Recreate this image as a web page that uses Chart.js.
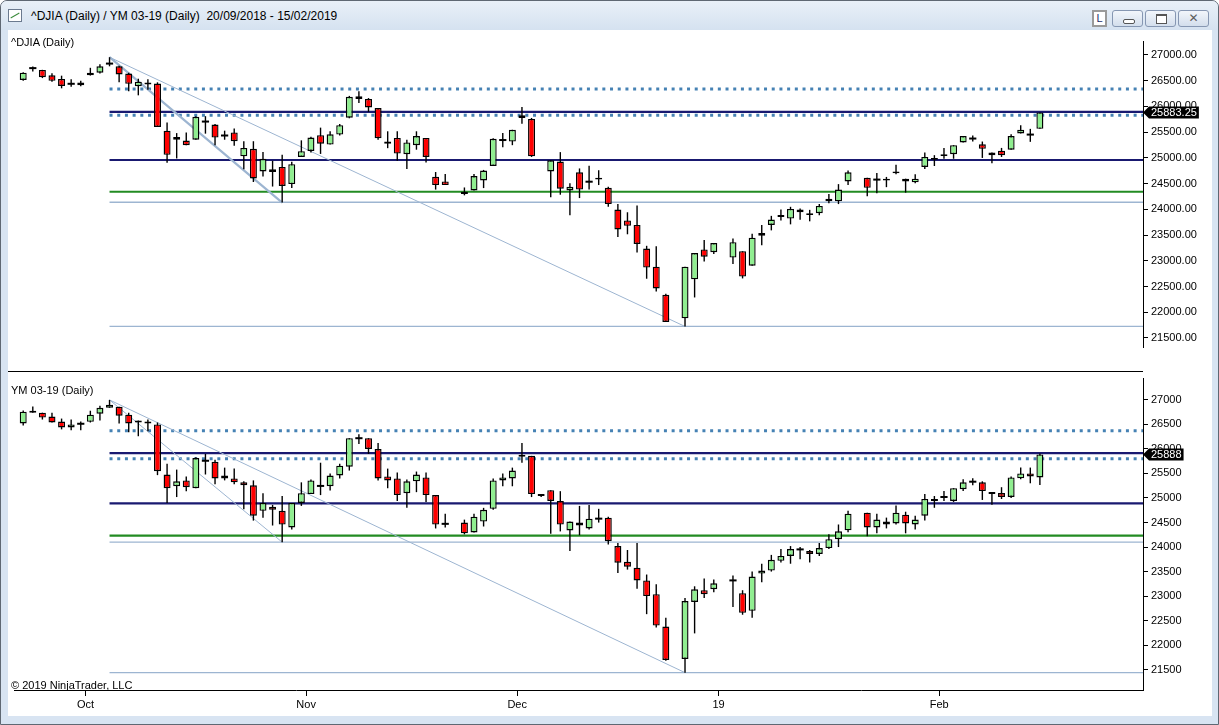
<!DOCTYPE html>
<html lang="en">
<head>
<meta charset="utf-8">
<title>^DJIA (Daily) / YM 03-19 (Daily)</title>
<script src="https://cdn.jsdelivr.net/npm/chart.js@4.4.1/dist/chart.umd.min.js"></script>
<style>
  html, body { margin: 0; padding: 0; }
  body {
    width: 1219px; height: 725px; overflow: hidden; position: relative;
    font-family: "Liberation Sans", Arial, sans-serif; color: #000;
  }
  .abs { position: absolute; }
  #frame { left: 0; top: 0; width: 1219px; height: 725px; box-sizing: border-box;
    border: 1px solid #5f6873; border-radius: 7px 7px 0 0; background: #d8e4f2; }
  #titlebar { left: 1px; top: 1px; width: 1217px; height: 29px; border-radius: 6px 6px 0 0;
    background: linear-gradient(#e9f0f8, #d5e2f0); }
  #icon { left: 8px; top: 9px; width: 12px; height: 11px; border: 1px solid #6b7a8f; background: #fff; }
  #icon i { position: absolute; left: 1px; top: 5px; width: 10px; height: 1px; background: #3a8a3a;
    transform: rotate(-30deg); }
  #title { left: 31px; top: 9px; font-size: 12px; line-height: 14px; white-space: pre; }
  .wbtn { top: 10px; width: 31px; height: 17px; box-sizing: border-box; border: 1px solid #8697b2;
    border-radius: 3px; background: linear-gradient(#f2f6fb, #d3deec); }
  #btnL { left: 1092px; top: 10px; width: 15px; height: 17px; box-sizing: border-box;
    border: 2px solid #9a9a9a; background: #fff; font-size: 11px; line-height: 13px;
    text-align: center; color: #1d2d6b; }
  #bmin i { position: absolute; left: 10px; top: 8px; width: 10px; height: 3px; border: 1px solid #555;
    border-radius: 2px; background: #fff; }
  #bmax i { position: absolute; left: 10px; top: 3px; width: 9px; height: 7px; border: 1px solid #555;
    border-top-width: 2px; background: #fff; }
  #bclose { font-size: 12px; line-height: 15px; text-align: center; font-weight: bold; color: #5c5c5c;
    font-family: "DejaVu Sans", sans-serif; }
  #sheet { left: 8px; top: 30px; width: 1204px; height: 686px; background: #fff; }
  .lbl { font-size: 11px; line-height: 13px; white-space: pre; }
  #split { left: 8px; top: 371px; width: 1135px; height: 1px; background: #000; }
</style>
</head>
<body>
<div id="frame" class="abs"></div>
<div id="titlebar" class="abs"></div>
<div id="icon" class="abs"><i></i></div>
<div id="title" class="abs">^DJIA (Daily) / YM 03-19 (Daily)  20/09/2018 - 15/02/2019</div>
<div id="btnL" class="abs">L</div>
<div id="bmin" class="abs wbtn" style="left:1112px"><i></i></div>
<div id="bmax" class="abs wbtn" style="left:1145px"><i></i></div>
<div id="bclose" class="abs wbtn" style="left:1178px">✕</div>
<div id="sheet" class="abs"></div>

<canvas id="djia" class="abs" width="1204" height="337" style="left:8px;top:35px"></canvas>
<canvas id="ym" class="abs" width="1204" height="343" style="left:8px;top:372px"></canvas>
<div id="split" class="abs"></div>

<div class="abs lbl" style="left:11px;top:36px">^DJIA (Daily)</div>
<div class="abs lbl" style="left:11px;top:384px">YM 03-19 (Daily)</div>
<div class="abs lbl" style="left:11px;top:679px">© 2019 NinjaTrader, LLC</div>

<script>
// one slot per session on the shared x axis (holiday slots stay empty)
const sessions = [
  '2018-09-20','2018-09-21','2018-09-24','2018-09-25','2018-09-26','2018-09-27','2018-09-28',
  '2018-10-01','2018-10-02','2018-10-03','2018-10-04','2018-10-05','2018-10-08','2018-10-09',
  '2018-10-10','2018-10-11','2018-10-12','2018-10-15','2018-10-16','2018-10-17','2018-10-18',
  '2018-10-19','2018-10-22','2018-10-23','2018-10-24','2018-10-25','2018-10-26','2018-10-29',
  '2018-10-30','2018-10-31',
  '2018-11-01','2018-11-02','2018-11-05','2018-11-06','2018-11-07','2018-11-08','2018-11-09',
  '2018-11-12','2018-11-13','2018-11-14','2018-11-15','2018-11-16','2018-11-19','2018-11-20',
  '2018-11-21','2018-11-22','2018-11-23','2018-11-26','2018-11-27','2018-11-28','2018-11-29',
  '2018-11-30',
  '2018-12-03','2018-12-04','2018-12-05','2018-12-06','2018-12-07','2018-12-10','2018-12-11',
  '2018-12-12','2018-12-13','2018-12-14','2018-12-17','2018-12-18','2018-12-19','2018-12-20',
  '2018-12-21','2018-12-24','2018-12-25','2018-12-26','2018-12-27','2018-12-28','2018-12-31',
  '2019-01-01','2019-01-02','2019-01-03','2019-01-04','2019-01-07','2019-01-08','2019-01-09',
  '2019-01-10','2019-01-11','2019-01-14','2019-01-15','2019-01-16','2019-01-17','2019-01-18',
  '2019-01-21','2019-01-22','2019-01-23','2019-01-24','2019-01-25','2019-01-28','2019-01-29',
  '2019-01-30','2019-01-31',
  '2019-02-01','2019-02-04','2019-02-05','2019-02-06','2019-02-07','2019-02-08','2019-02-11',
  '2019-02-12','2019-02-13','2019-02-14','2019-02-15'
];

// ^DJIA daily
const djiaOpen = [
  26516, 26745, 26710, 26604, 26534, 26440, 26410, 26604, 26657, 26833,
  26780, 26639, 26393, 26463, 26445, 25529, 25406, 25336, 25353, 25706,
  25647, 25435, 25494, 25030, 25177, 24736, 24778, 24825, 24490, 25018,
  25136, 25441, 25259, 25453, 25782, 26146, 26146, 25970, 25318, 25388,
  25071, 25247, 25388, 24631, 24543, null, 24343, 24366, 24560, 24842,
  25347, 25318, 25776, 25758, null, 24736, 24930, 24366, 24719, 24537,
  24578, 24419, 23996, 23785, 23697, 23238, 22886, 22340, null, 21882,
  22640, 23221, 23168, null, 23062, 23186, 22904, 23485, 23697, 23849,
  23820, 23943, 23891, 23926, 24155, 24155, 24542, null, 24613, 24578,
  24596, 24701, 24596, 24525, 24824, 24965, 25036, 25071, 25300, 25376,
  25265, 25053, 25141, 25159, 25476, 25453, 25564
];
const djiaHigh = [
  26665, 26775, 26712, 26645, 26598, 26528, 26498, 26751, 26821, 26957,
  26792, 26657, 26539, 26528, 26469, 25688, 25482, 25494, 25811, 25811,
  25658, 25529, 25570, 25324, 25324, 25112, 24942, 25059, 24924, 25341,
  25412, 25588, 25517, 25659, 26205, 26293, 26163, 25970, 25517, 25517,
  25353, 25517, 25388, 24725, 24689, null, 24425, 24689, 24766, 25382,
  25482, 25547, 25987, 25776, null, 24954, 25112, 24507, 24795, 24848,
  24760, 24437, 24102, 23943, 24073, 23291, 23280, 22357, null, 22886,
  23150, 23403, 23344, null, 23432, 23186, 23526, 23697, 23873, 23996,
  24049, 24014, 23990, 24102, 24296, 24490, 24754, null, 24613, 24707,
  24630, 24865, 24596, 24683, 25106, 25053, 25194, 25247, 25423, 25435,
  25318, 25106, 25194, 25459, 25635, 25564, 25883.25
];
const djiaLow = [
  26500, 26680, 26551, 26480, 26352, 26381, 26393, 26600, 26639, 26780,
  26469, 26293, 26216, 26322, 25600, 24907, 24989, 25247, 25353, 25471,
  25247, 25353, 25236, 24777, 24531, 24637, 24443, 24131, 24413, 25018,
  25106, 25077, 25259, 25435, 25770, 26069, 25893, 25353, 25189, 24942,
  24783, 25159, 24912, 24384, 24472, null, 24272, 24366, 24413, 24842,
  25206, 25247, 25664, 25018, null, 24237, 24284, 23885, 24219, 24384,
  24472, 24049, 23462, 23515, 23162, 22651, 22405, 21811, null, 21723,
  22287, 22986, 23133, null, 22939, 22657, 22904, 23303, 23591, 23785,
  23708, 23797, 23767, 23885, 24120, 24102, 24472, null, 24255, 24313,
  24431, 24683, 24325, 24507, 24783, 24842, 24983, 24983, 25300, 25318,
  24999, 24895, 25018, 25159, 25476, 25312, 25564
];
const djiaClose = [
  26657, 26745, 26569, 26498, 26398, 26440, 26463, 26657, 26780, 26833,
  26622, 26440, 26481, 26428, 25600, 25059, 25353, 25247, 25799, 25706,
  25394, 25435, 25324, 25194, 24601, 24983, 24725, 24455, 24877, 25130,
  25394, 25277, 25459, 25635, 26187, 26199, 25981, 25382, 25277, 25083,
  25300, 25423, 25018, 24472, 24472, null, 24296, 24648, 24754, 25371,
  25347, 25547, 25829, 25030, null, 24954, 24402, 24437, 24384, 24537,
  24613, 24102, 23609, 23679, 23327, 22868, 22463, 21811, null, 22886,
  23150, 23080, 23344, null, 23362, 22692, 23450, 23538, 23802, 23890,
  24008, 23996, 23926, 24067, 24208, 24384, 24719, null, 24419, 24578,
  24560, 24736, 24542, 24596, 25018, 25000, 25071, 25247, 25423, 25376,
  25177, 25106, 25053, 25423, 25547, 25453, 25883.25
];

// YM 03-19 daily
const ymOpen = [
  26519, 26739, 26739, 26659, 26559, 26439, 26513, 26553, 26719, 26839,
  26859, 26699, 26539, 26559, 26499, 25479, 25239, 25359, 25199, 25759,
  25739, 25399, 25399, 25319, 25259, 24739, 24819, 24739, 24399, 24899,
  25079, 25246, 25239, 25459, 25639, 26219, 26219, 25999, 25439, 25399,
  25099, 25339, 25419, 25059, 24473, null, 24499, 24299, 24519, 24779,
  25359, 25399, 25839, 25859, 25039, 25159, 24939, 24339, 24499, 24379,
  24579, 24599, 24020, 23700, 23580, 23320, 23040, 22380, null, 21720,
  22880, 23120, 23140, null, 23320, 23060, 22700, 23460, 23520, 23720,
  23820, 23952, 23920, 23860, 23980, 24160, 24340, null, 24700, 24400,
  24520, 24480, 24660, 24460, 24640, 24940, 25020, 24940, 25180, 25332,
  25320, 25120, 25100, 25020, 25400, 25500, 25420
];
const ymHigh = [
  26786, 26866, 26739, 26739, 26619, 26599, 26559, 26779, 26879, 26999,
  26859, 26739, 26579, 26599, 26539, 25699, 25579, 25439, 25833, 25899,
  25779, 25619, 25599, 25339, 25359, 25099, 24859, 25039, 24899, 25319,
  25379, 25719, 25499, 25699, 26219, 26299, 26219, 26119, 25599, 25519,
  25379, 25539, 25519, 25059, 24679, null, 24559, 24679, 24799, 25399,
  25499, 25619, 26119, 25859, 25079, 25159, 25139, 24519, 24839, 24859,
  24779, 24619, 24080, 23940, 24080, 23440, 23240, 22560, null, 22960,
  23200, 23360, 23340, null, 23420, 23120, 23500, 23660, 23840, 23960,
  24020, 24000, 23940, 24080, 24260, 24460, 24740, null, 24700, 24680,
  24600, 24846, 24720, 24640, 25080, 25040, 25140, 25200, 25380, 25400,
  25340, 25120, 25220, 25440, 25620, 25620, 25906
];
const ymLow = [
  26479, 26739, 26599, 26539, 26399, 26379, 26379, 26539, 26579, 26839,
  26519, 26339, 26259, 26359, 25466, 24899, 25019, 25139, 25199, 25479,
  25279, 25359, 25279, 24773, 24539, 24599, 24439, 24099, 24359, 24839,
  25079, 25059, 25153, 25399, 25559, 26099, 25899, 25359, 25199, 24939,
  24799, 25119, 24919, 24379, 24399, null, 24259, 24299, 24419, 24759,
  25239, 25239, 25719, 25019, 25019, 24273, 24319, 23919, 24239, 24359,
  24499, 24052, 23472, 23540, 23152, 22632, 22360, 21680, null, 21440,
  22240, 22960, 23080, null, 22780, 22620, 22560, 23280, 23500, 23686,
  23660, 23752, 23686, 23820, 23960, 24000, 24300, null, 24220, 24280,
  24380, 24460, 24280, 24360, 24540, 24800, 24940, 24920, 25140, 25260,
  24960, 24860, 24980, 25000, 25380, 25300, 25266
];
const ymClose = [
  26759, 26779, 26639, 26539, 26439, 26499, 26513, 26699, 26839, 26899,
  26679, 26519, 26579, 26519, 25546, 25199, 25339, 25219, 25813, 25759,
  25399, 25459, 25319, 25259, 24639, 24899, 24759, 24459, 24899, 25099,
  25359, 25246, 25459, 25659, 26219, 26219, 25999, 25399, 25359, 25059,
  25339, 25479, 25059, 24459, 24473, null, 24279, 24619, 24759, 25359,
  25419, 25559, 25879, 25079, 25079, 24939, 24459, 24519, 24439, 24579,
  24579, 24119, 23680, 23600, 23320, 23000, 22400, 21700, null, 22900,
  23140, 23040, 23260, null, 23320, 22660, 23400, 23520, 23740, 23820,
  23960, 23952, 23860, 23980, 24160, 24320, 24680, null, 24400, 24560,
  24460, 24700, 24480, 24560, 24980, 24980, 25020, 25200, 25320, 25332,
  25140, 25080, 25020, 25420, 25500, 25440, 25888
];

// horizontal drawing levels (top to bottom) and the trend lines
const djiaLevels = [26340, 25896, 25831, 24959, 24342, 24138, 21724];
const ymLevels = [26370, 25914, 25800, 24890, 24234, 24100, 21440];
const levelStart = 9;        // drawn from the Oct 3 high
const trendStart = 9;        // Oct 3 high ...
const trendEnds = [69, 27];  // ... to the Dec 26 and Oct 29 lows
const priceTicks = [21500, 22000, 22500, 23000, 23500, 24000, 24500, 25000, 25500, 26000, 26500, 27000];

// ---- styling ----
const FONT = '"Liberation Sans", Arial, sans-serif';
const INK = '#000';
const UP = '#90ee90';
const DOWN = '#ff0000';
const PALE = '#9db5d1';
const X_MIN = -0.96, X_MAX = 116.75;   // visible slot range
const AXIS_W = 69;

const DOTTED = { borderColor: '#4682b4', borderWidth: 3, borderDash: [3, 4.7] };
const NAVY = { borderColor: '#191970', borderWidth: 2.2 };
const GREEN = { borderColor: '#228b22', borderWidth: 2.2 };
const THIN = { borderColor: PALE, borderWidth: 1.3 };
const levelStyle = [DOTTED, NAVY, DOTTED, NAVY, GREEN, THIN, THIN];

const MONTHS = ['Jan','Feb','Mar','Apr','May','Jun','Jul','Aug','Sep','Oct','Nov','Dec'];
const monthTicks = [];
sessions.forEach((d, i) => {
  if (i === 0 || d.slice(5, 7) === sessions[i - 1].slice(5, 7)) return;
  const m = +d.slice(5, 7);
  monthTicks.push({ slot: i, text: m === 1 ? d.slice(2, 4) : MONTHS[m - 1] });
});

function candleSets(o, h, l, c) {
  const wicks = [], bodies = [], fills = [], dojis = [];
  c.forEach((close, i) => {
    if (close == null) return;
    wicks.push({ x: i, y: [l[i], h[i]] });
    if (o[i] === close) {
      dojis.push({ x: i, y: close });
    } else {
      bodies.push({ x: i, y: [o[i], close] });
      fills.push(close > o[i] ? UP : DOWN);
    }
  });
  return [
    { type: 'bar', data: wicks, backgroundColor: INK, barThickness: 1.4,
      grouped: false, inflateAmount: 0, order: 3 },
    { type: 'bar', data: bodies, backgroundColor: fills, borderColor: INK, borderWidth: 1.4,
      borderSkipped: false, barThickness: 7, grouped: false, inflateAmount: 0, order: 2 },
    { type: 'line', data: dojis, showLine: false, pointStyle: 'line', pointRadius: 3.6,
      pointBorderWidth: 2, pointBorderColor: INK, order: 1 }
  ];
}

function levelSets(levels) {
  return levels.map((v, k) => Object.assign({
    type: 'line', data: [{ x: levelStart, y: v }, { x: X_MAX, y: v }],
    pointRadius: 0, order: 10
  }, levelStyle[k]));
}

function trendSets(h, l, widths) {
  return trendEnds.map((end, k) => ({
    type: 'line', data: [{ x: trendStart, y: h[trendStart] }, { x: end, y: l[end] }],
    borderColor: PALE, borderWidth: widths[k], pointRadius: 0, order: 9
  }));
}

const lastPriceTag = {
  id: 'lastPriceTag',
  afterDraw(chart, args, opts) {
    const { ctx, chartArea } = chart;
    const y = chart.scales.y.getPixelForValue(opts.value);
    const x = chartArea.right;
    ctx.save();
    ctx.font = '11px ' + FONT;
    const w = ctx.measureText(opts.text).width + 4;
    ctx.fillStyle = INK;
    ctx.beginPath();
    ctx.moveTo(x, y);
    ctx.lineTo(x + 6, y - 6);
    ctx.lineTo(x + 6 + w, y - 6);
    ctx.lineTo(x + 6 + w, y + 6);
    ctx.lineTo(x + 6, y + 6);
    ctx.closePath();
    ctx.fill();
    ctx.fillStyle = '#fff';
    ctx.textBaseline = 'middle';
    ctx.fillText(opts.text, x + 8, y + 0.5);
    ctx.restore();
  }
};

function yAxis(min, max, digits) {
  return {
    position: 'right', min, max, bounds: 'data', offset: false,
    afterBuildTicks(s) { s.ticks = priceTicks.map(v => ({ value: v })); },
    afterFit(s) { s.width = AXIS_W; s.paddingTop = 0; s.paddingBottom = 0; },
    border: { display: true, color: INK, width: 1 },
    grid: { drawOnChartArea: false, drawTicks: true, tickLength: 5, color: INK, offset: false },
    ticks: { padding: 3, color: INK, font: { family: FONT, size: 11 },
      callback: v => v.toFixed(digits) }
  };
}

function xAxis(show) {
  return {
    type: 'linear', min: X_MIN, max: X_MAX, bounds: 'data', display: show, offset: false,
    afterBuildTicks(s) { s.ticks = monthTicks.map(t => ({ value: t.slot - 0.5 })); },
    afterFit(s) { s.height = 25; s.paddingLeft = 0; s.paddingRight = 0; },
    border: { display: true, color: INK, width: 1 },
    grid: { drawOnChartArea: false, drawTicks: true, tickLength: 6, color: INK, offset: false },
    ticks: { autoSkip: false, maxRotation: 0, padding: 2, color: INK,
      font: { family: FONT, size: 11 }, callback: (v, i) => monthTicks[i].text }
  };
}

function makePanel(id, o, h, l, c, levels, trendWidths, yMin, yMax, digits, showX) {
  const last = c[c.length - 1];
  return new Chart(document.getElementById(id), {
    type: 'bar',
    data: {
      datasets: [
        ...levelSets(levels),
        ...trendSets(h, l, trendWidths),
        ...candleSets(o, h, l, c)
      ]
    },
    options: {
      responsive: false,
      animation: false,
      events: [],
      layout: { padding: 0 },
      scales: { x: xAxis(showX), y: yAxis(yMin, yMax, digits) },
      plugins: {
        legend: { display: false },
        tooltip: { enabled: false },
        lastPriceTag: { value: last, text: last.toFixed(digits) }
      }
    },
    plugins: [lastPriceTag]
  });
}

makePanel('djia', djiaOpen, djiaHigh, djiaLow, djiaClose, djiaLevels, [1, 2.2],
  21324, 27272, 2, false);
makePanel('ym', ymOpen, ymHigh, ymLow, ymClose, ymLevels, [1, 1],
  21086, 27446, 0, true);
</script>
</body>
</html>
